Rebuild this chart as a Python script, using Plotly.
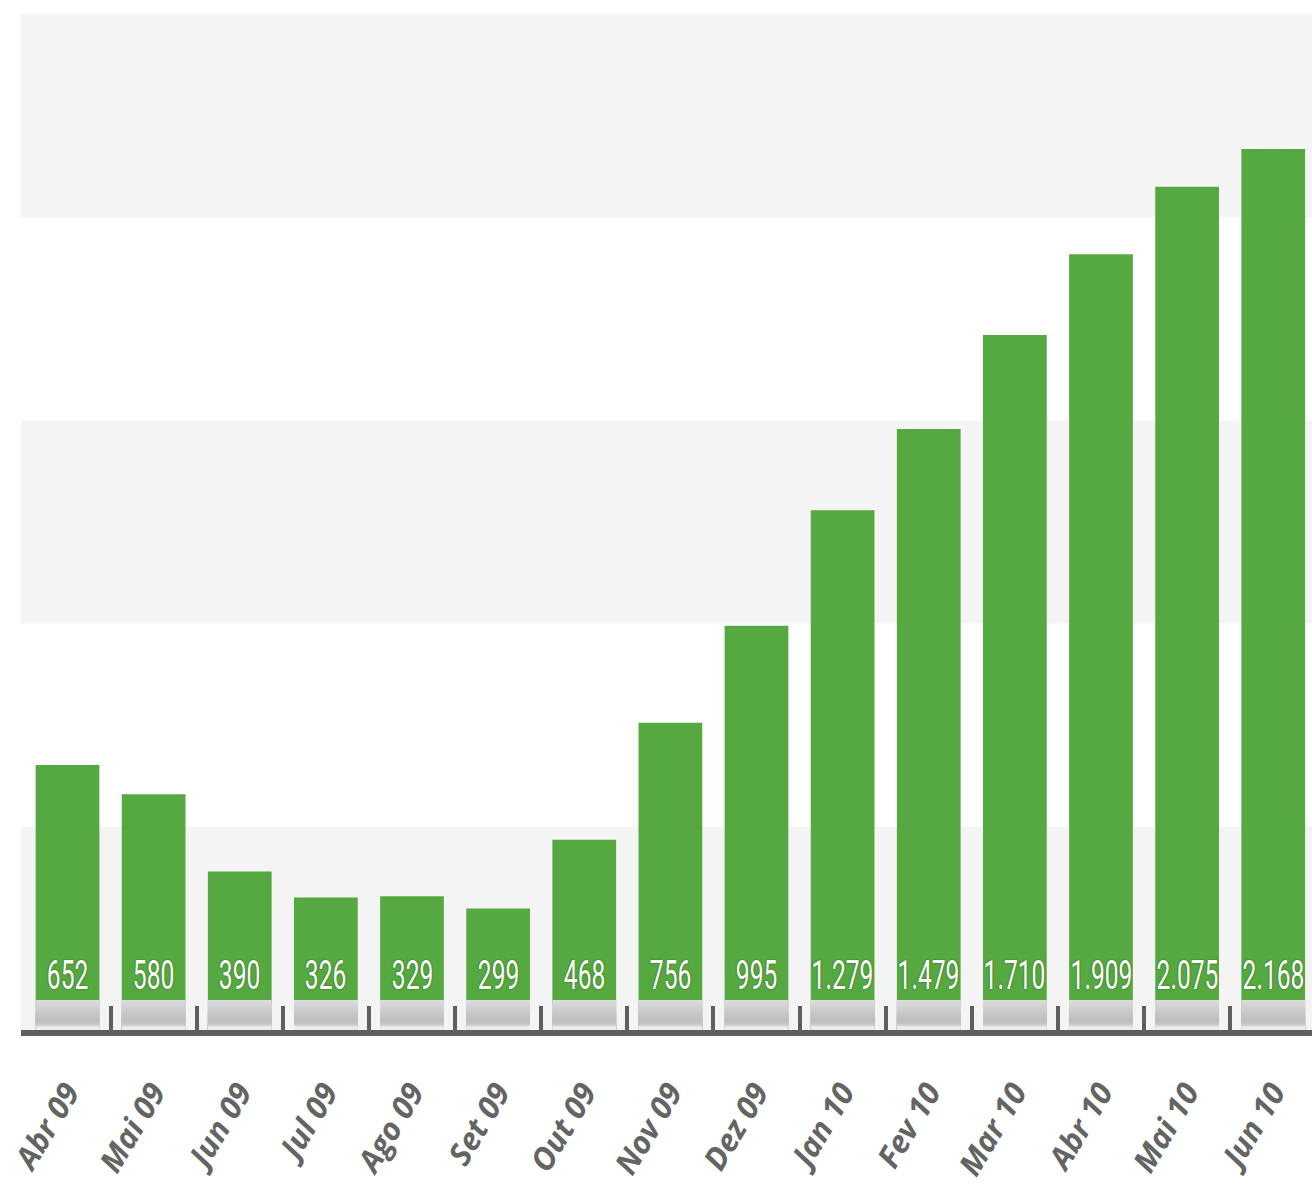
import plotly.graph_objects as go

categories = ["Abr 09", "Mai 09", "Jun 09", "Jul 09", "Ago 09", "Set 09", "Out 09",
              "Nov 09", "Dez 09", "Jan 10", "Fev 10", "Mar 10", "Abr 10", "Mai 10", "Jun 10"]
values = [652, 580, 390, 326, 329, 299, 468, 756, 995, 1279, 1479, 1710, 1909, 2075, 2168]
band_edges = [0, 500, 1000, 1500, 2000, 2500]

GREEN = "#55a940"
BAR_W = 0.74
idx = list(range(len(categories)))

def fmt(v):
    return f"{v:,}".replace(",", ".")

fig = go.Figure()

# alternating background bands
for i in range(len(band_edges) - 1):
    if i % 2 == 0:
        fig.add_shape(type="rect", xref="paper", yref="y", x0=0, x1=1,
                      y0=band_edges[i], y1=band_edges[i + 1],
                      fillcolor="#f4f4f4", line_width=0, layer="below")

fig.add_trace(go.Bar(x=idx, y=values, width=BAR_W,
                     marker=dict(color=GREEN, line_width=0),
                     customdata=categories,
                     hovertemplate="%{customdata}: %{y}<extra></extra>"))

# grey gradient "reflection" at the foot of each bar (decoration, in axis units);
# layers overlap from the axis upward so no seams appear
grad_tops = [74, 68, 62, 56, 50, 44, 38, 32, 26, 20, 14, 9]
grad_cols = ["#dcdcde", "#d7d7d9", "#d3d3d5", "#cfcfd1", "#cbcbcd", "#c7c7c9",
             "#c4c4c6", "#c1c1c3", "#bfbfc1", "#c3c3c5", "#d0d0d2", "#ececec"]
for top, col in zip(grad_tops, grad_cols):
    fig.add_trace(go.Bar(x=idx, y=[top] * len(idx), width=BAR_W,
                         marker=dict(color=col, line_width=0),
                         hoverinfo="skip"))

for i, v in zip(idx, values):
    fig.add_annotation(x=i, y=0, text=fmt(v), showarrow=False,
                       yanchor="middle", yshift=55,
                       font=dict(family="Roboto, Liberation Sans, sans-serif",
                                 size=41, color="white",
                                 shadow="0px 0px 2px rgba(40,80,20,0.9)"))

fig.update_layout(
    width=1312, height=1187,
    margin=dict(l=21, r=0, t=12, b=157, autoexpand=False),
    paper_bgcolor="white", plot_bgcolor="white",
    barmode="overlay", showlegend=False,
    xaxis=dict(range=[-0.54, 14.45], showgrid=False, zeroline=False,
               automargin=False,
               showline=True, linecolor="#5e5e5e", linewidth=6,
               tickmode="array", tickvals=idx, ticktext=categories,
               ticks="", tickangle=-59, ticklabelstandoff=26,
               minor=dict(tickmode="array", tickvals=[i + 0.5 for i in idx[:-1]],
                          ticks="inside", ticklen=24, tickwidth=4,
                          tickcolor="#5e5e5e", showgrid=False),
               tickfont=dict(family="Open Sans, Lato, sans-serif", size=31,
                             color="#646464", weight="bold", style="italic")),
    yaxis=dict(range=[0, 2505], showgrid=False, zeroline=False, automargin=False,
               showticklabels=False, showline=False),
)

post = """
document.body.style.margin = '0';
document.body.style.overflow = 'hidden';
var gd = document.getElementById('{plot_id}');
function squeeze(){
  gd.querySelectorAll('text.annotation-text').forEach(function(t){
    t.style.transformBox = 'fill-box';
    t.style.transformOrigin = 'center';
    t.style.transform = 'scaleX(0.6)';
  });
}
squeeze();
gd.on('plotly_afterplot', squeeze);
"""

fig.write_html("out.html", post_script=post, config={"displayModeBar": False})
